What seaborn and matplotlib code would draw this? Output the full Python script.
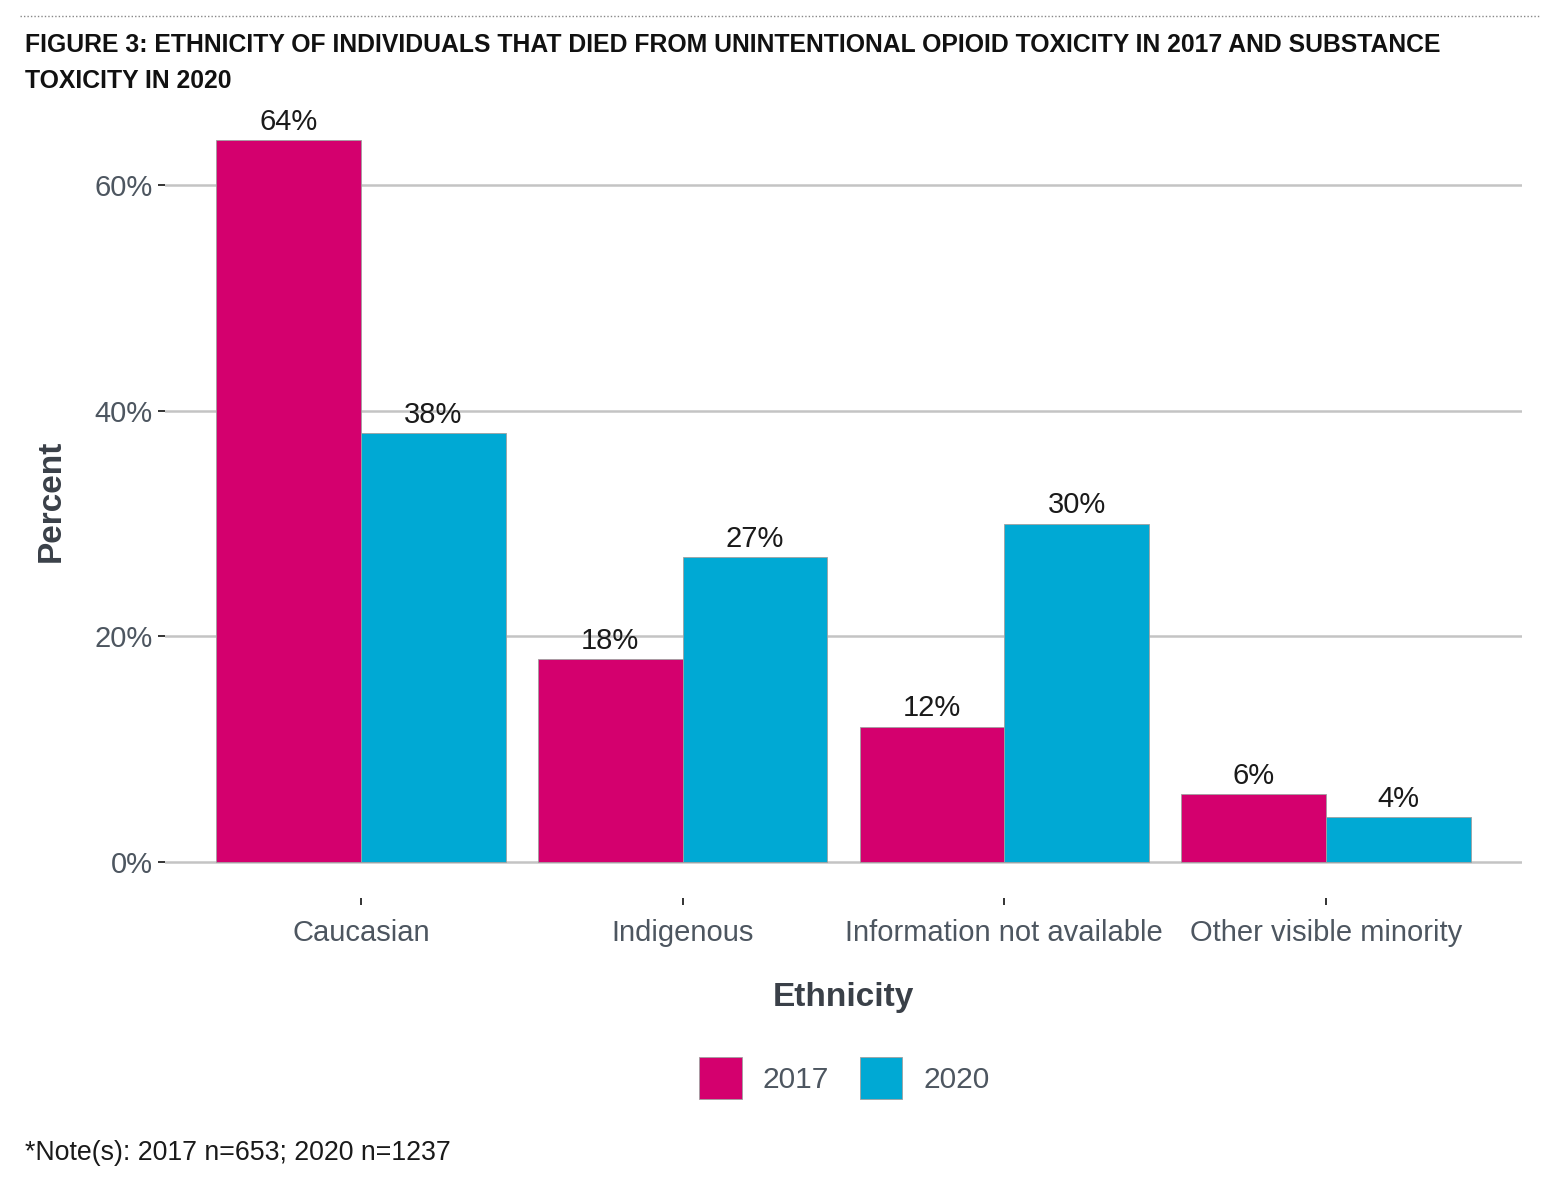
import pandas as pd
import matplotlib
matplotlib.use("Agg")
import matplotlib.pyplot as plt
import seaborn as sns
from matplotlib.patches import Patch

ethnicity = ["Caucasian", "Indigenous", "Information not available", "Other visible minority"]
pct_2017 = [64, 18, 12, 6]
pct_2020 = [38, 27, 30, 4]
years = ["2017", "2020"]
colours = {"2017": "#D4006E", "2020": "#00A9D4"}

df = pd.DataFrame({
    "Ethnicity": ethnicity * 2,
    "Percent": pct_2017 + pct_2020,
    "Year": [years[0]] * 4 + [years[1]] * 4,
})

sns.set_style("white")
plt.rcParams["font.family"] = ["Liberation Sans", "DejaVu Sans"]

fig = plt.figure(figsize=(15.58, 11.90), dpi=100)
ax = fig.add_axes([0.1059, 0.2454, 0.871, 0.6672])

sns.barplot(data=df, x="Ethnicity", y="Percent", hue="Year", palette=colours,
            width=0.9, gap=0, saturation=1, edgecolor="#a0a0a0", linewidth=0.6,
            legend=False, ax=ax, zorder=3)

for cont in ax.containers:
    for bar in cont:
        h = bar.get_height()
        ax.annotate(f"{h:.0f}%", (bar.get_x() + bar.get_width() / 2, h),
                    xytext=(0, 3), textcoords="offset points",
                    ha="center", va="bottom", fontsize=21, color="#1a1a1a", zorder=4)

ax.set_ylim(-3.2, 67.2)
ax.set_xlim(-0.61, 3.61)
ax.set_yticks([0, 20, 40, 60])
ax.set_yticklabels(["0%", "20%", "40%", "60%"])
ax.grid(axis="y", color="#c4c4c4", linewidth=1.8, zorder=0)
ax.grid(axis="x", visible=False)
for s in ax.spines.values():
    s.set_visible(False)
ax.tick_params(axis="both", which="major", bottom=True, left=True, length=5, width=1.4,
               color="#333333", labelsize=21, labelcolor="#4d5660", direction="out")
ax.tick_params(axis="x", pad=10)
ax.tick_params(axis="y", pad=4)

ax.set_xlabel("Ethnicity", fontsize=24, fontweight="bold", color="#3a4048", labelpad=25)
ax.set_ylabel("Percent", fontsize=24, fontweight="bold", color="#3a4048", labelpad=20)

handles = [Patch(facecolor=colours[y], edgecolor="#a0a0a0", linewidth=0.6, label=y) for y in years]
fig.legend(handles=handles, loc="center", bbox_to_anchor=(0.542, 0.094), ncol=2,
           frameon=False, fontsize=21.5, handlelength=1.41, handleheight=1.75,
           handletextpad=0.7, columnspacing=1.05, labelcolor="#4d5660")

fig.text(0.016, 0.972, "FIGURE 3: ETHNICITY OF INDIVIDUALS THAT DIED FROM UNINTENTIONAL OPIOID TOXICITY IN 2017 AND SUBSTANCE\nTOXICITY IN 2020",
         fontsize=17.8, fontweight="bold", color="#111111", va="top", ha="left", linespacing=1.6)
fig.text(0.016, 0.031, "*Note(s): 2017 n=653; 2020 n=1237", fontsize=19.3, color="#1a1a1a",
         va="center", ha="left")
fig.add_artist(plt.Line2D([0.013, 0.988], [0.9865, 0.9865], transform=fig.transFigure,
                          color="#888888", linewidth=1, linestyle=(0, (1, 1.5))))

fig.savefig("out.png", dpi=100)
